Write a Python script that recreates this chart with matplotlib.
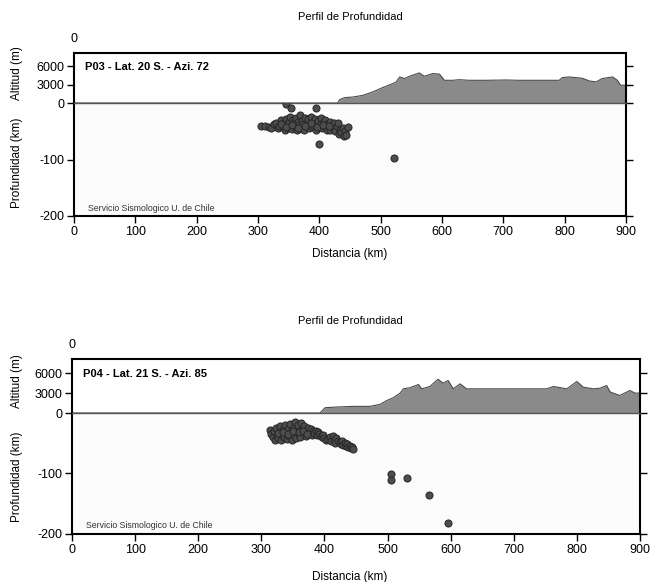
#!/usr/bin/env python3
"""
Perfil de Profundidad - two seismic depth profiles (P03 and P04)
"""

import matplotlib
matplotlib.use('Agg')
import matplotlib.pyplot as plt

W, H = 653, 582

# P03 topography (distance km, altitude m)
p03_topo_x = [0, 430, 433, 441, 455, 471, 487, 503, 517, 525, 531, 539, 547, 563, 571, 585,
              596, 604, 617, 628, 644, 672, 704, 726, 780, 791, 796, 807, 829, 840, 851, 861,
              878, 886, 891, 900]
p03_topo_z = [0, 0, 550, 870, 980, 1250, 1800, 2500, 3050, 3400, 4250, 3980, 4360, 4900, 4360, 4800,
              4700, 3700, 3700, 3800, 3700, 3700, 3750, 3700, 3700, 3700, 4140, 4250, 4030, 3600, 3430, 3980,
              4250, 3700, 2900, 2900]

# P03 hypocentres (distance km, depth km)
p03_x = [305, 312, 318, 322, 326, 330, 332, 335, 337, 340, 342, 344, 345, 347, 349, 350, 352, 353,
         355, 357, 358, 360, 362, 363, 365, 367, 368, 370, 372, 373, 375, 377, 378, 380, 382, 383,
         385, 387, 388, 390, 392, 393, 395, 397, 398, 400, 402, 403, 405, 407, 408, 410, 412, 413,
         415, 417, 418, 420, 422, 424, 426, 428, 430, 432, 434, 436, 438, 440, 442, 446, 444,
         338, 346, 356, 366, 376, 386, 396, 406, 416,
         345, 354, 394, 399, 522]
p03_d = [40, 41, 42, 44, 38, 35, 45, 40, 30, 42, 36, 47, 28, 38, 44, 33, 25, 40,
         46, 30, 36, 42, 27, 48, 34, 39, 22, 44, 31, 37, 47, 26, 41, 35, 29, 45,
         38, 24, 43, 33, 40, 28, 47, 36, 31, 42, 27, 38, 45, 33, 40, 30, 47, 37,
         42, 34, 48, 39, 44, 36, 50, 41, 35, 55, 47, 52, 44, 58, 50, 42, 56,
         38, 42, 39, 44, 40, 36, 43, 39, 41,
         1, 9, 9, 73, 98]

# P04 topography
p04_topo_x = [0, 393, 401, 419, 446, 472, 488, 499, 509, 520, 525, 535, 549, 554, 567, 580,
              588, 596, 604, 615, 625, 657, 710, 752, 763, 784, 800, 810, 826, 837, 847, 853,
              868, 884, 892, 900]
p04_topo_z = [0, 0, 800, 900, 1000, 1000, 1300, 1900, 2300, 3000, 3650, 3800, 4300, 3650, 4000, 5100,
              4500, 4900, 3650, 4400, 3650, 3650, 3650, 3650, 4000, 3650, 4750, 3900, 3650, 3750, 4150, 3150,
              2650, 3400, 3000, 3000]

# P04 hypocentres
p04_x = [314, 316, 318, 320, 322, 323, 325, 327, 328, 330, 331, 333, 335, 336, 338, 340, 341, 343,
         344, 346, 348, 349, 351, 352, 354, 355, 357, 358, 360, 362, 363, 365, 367, 368, 370, 372,
         374, 376, 378, 380, 382, 384, 386, 388, 390, 392, 394, 396, 398, 400, 403, 406, 409, 411,
         413, 415, 417, 419, 421, 424, 426, 428, 430, 432, 434, 436, 438, 440, 442, 444, 446,
         326, 334, 342, 350, 359, 366, 373,
         506, 505, 531, 566, 595]
p04_d = [28, 35, 40, 30, 45, 25, 38, 42, 32, 22, 45, 36, 28, 40, 20, 33, 43, 26,
         38, 18, 30, 44, 24, 36, 15, 41, 28, 20, 34, 40, 17, 26, 32, 22, 38, 28,
         24, 33, 27, 36, 30, 33, 29, 37, 32, 35, 38, 40, 37, 42, 45, 43, 40, 47,
         38, 44, 49, 42, 46, 48, 51, 47, 53, 50, 55, 52, 56, 54, 58, 57, 60,
         33, 31, 35, 29, 31, 30, 34,
         101, 110, 108, 135, 182]

panels = [
    dict(label='P03 - Lat. 20 S. - Azi. 72', left=74, right=626, top=53, zero=103, bottom=216,
         title_y=17, xlabel_y=254, tx=p03_topo_x, tz=p03_topo_z, hx=p03_x, hd=p03_d),
    dict(label='P04 - Lat. 21 S. - Azi. 85', left=72, right=640, top=359, zero=413, bottom=534,
         title_y=321, xlabel_y=577, tx=p04_topo_x, tz=p04_topo_z, hx=p04_x, hd=p04_d),
]

plt.rcParams['font.family'] = 'Liberation Sans'
plt.rcParams['axes.unicode_minus'] = False

fig = plt.figure(figsize=(W / 100, H / 100), dpi=100)

for p in panels:
    l = p['left'] / W
    w = (p['right'] - p['left']) / W
    ax_alt = fig.add_axes([l, 1 - p['zero'] / H, w, (p['zero'] - p['top']) / H])
    ax_dep = fig.add_axes([l, 1 - p['bottom'] / H, w, (p['bottom'] - p['zero']) / H])

    # altitude part
    ax_alt.fill_between(p['tx'], p['tz'], color='#8a8a8a', lw=0)
    ax_alt.plot(p['tx'], p['tz'], color='#4a4a4a', lw=0.8)
    ax_alt.set_xlim(0, 900)
    ax_alt.set_ylim(0, 8150)
    ax_alt.set_yticks([0, 3000, 6000])
    ax_alt.set_xticks([])
    ax_alt.spines['bottom'].set_visible(False)
    for s in ['top', 'left', 'right']:
        ax_alt.spines[s].set_linewidth(1.5)
    ax_alt.tick_params(axis='y', direction='out', length=5, width=1, right=True,
                       labelsize=9, pad=2)
    ax_alt.text(0.02, 0.72, p['label'], transform=ax_alt.transAxes, fontsize=8,
                fontweight='bold', va='center')
    ax_alt.text(0, 1.0 + 14 / (p['zero'] - p['top']), '0', transform=ax_alt.transAxes,
                ha='center', va='center', fontsize=9)

    # depth part
    ax_dep.set_facecolor('#fbfbfb')
    ax_dep.scatter(p['hx'], [-d for d in p['hd']], s=26, c='#4d4d4d',
                   edgecolors='#262626', linewidths=0.7, zorder=3)
    ax_dep.set_xlim(0, 900)
    ax_dep.set_ylim(-200, 0)
    ax_dep.set_yticks([-200, -100])
    ax_dep.set_xticks(range(0, 901, 100))
    ax_dep.spines['top'].set_linewidth(1.0)
    ax_dep.spines['top'].set_color('#555555')
    for s in ['bottom', 'left', 'right']:
        ax_dep.spines[s].set_linewidth(1.5)
    ax_dep.tick_params(direction='out', length=5, width=1, right=True, labelsize=9, pad=2)
    ax_dep.text(0.025, 0.07, 'Servicio Sismologico U. de Chile', transform=ax_dep.transAxes,
                fontsize=6.3, color='#333333', va='center')

    # labels
    fig.text(0.536, 1 - p['title_y'] / H, 'Perfil de Profundidad', ha='center', va='center',
             fontsize=8)
    fig.text(0.536, 1 - p['xlabel_y'] / H, 'Distancia (km)', ha='center', va='center',
             fontsize=8.5)
    fig.text(17 / W, 1 - (p['top'] + p['zero']) / 2 / H + 0.008, 'Altitud (m)', rotation=90,
             ha='center', va='center', fontsize=8.5)
    fig.text(17 / W, 1 - (p['zero'] + p['bottom'] + 6) / 2 / H, 'Profundidad (km)', rotation=90,
             ha='center', va='center', fontsize=8.5)

fig.savefig('out.png', dpi=100)
